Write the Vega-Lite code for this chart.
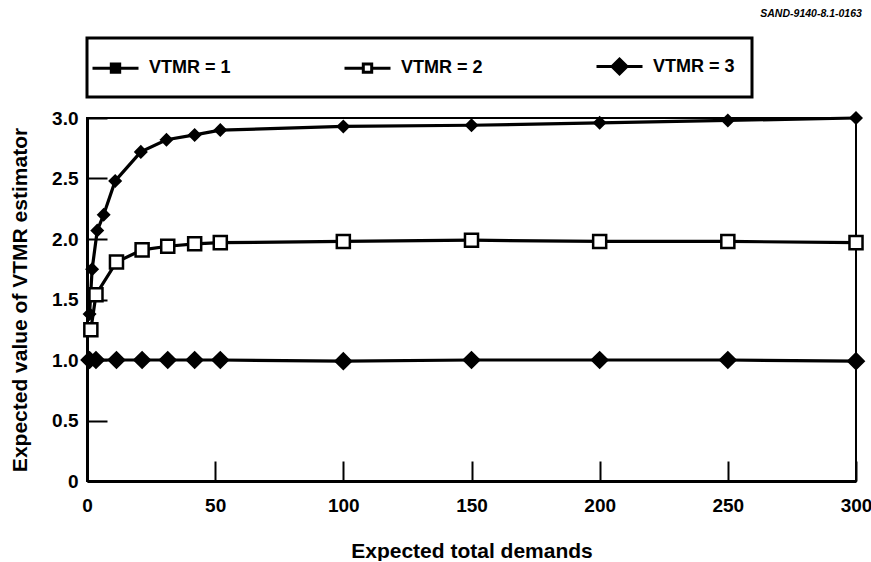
{
  "$schema": "https://vega.github.io/schema/vega-lite/v6.json",
  "width": 769,
  "height": 363,
  "padding": {"left": 9, "top": 9, "right": 0, "bottom": 0},
  "background": "white",
  "title": {"text": "SAND-9140-8.1-0163", "anchor": "end", "fontSize": 10.5, "fontStyle": "italic", "fontWeight": "bold", "font": "Liberation Sans", "color": "black", "offset": 17, "dx": -10},
  "config": {
    "font": "Liberation Sans",
    "view": {"stroke": "black", "strokeWidth": 2},
    "legend": {"strokeWidth": 3},
    "axis": {"domainColor": "black", "domainWidth": 3, "tickColor": "black", "tickWidth": 2, "grid": false, "labelFlush": false, "labelFont": "Liberation Sans", "labelFontWeight": "bold", "labelFontSize": 19, "labelColor": "black", "titleFont": "Liberation Sans", "titleFontWeight": "bold", "titleFontSize": 21, "titleColor": "black"}
  },
  "data": {"values": [
    {"series": "VTMR = 1", "x": 1, "y": 1.0},
    {"series": "VTMR = 1", "x": 3.5, "y": 1.0},
    {"series": "VTMR = 1", "x": 11.5, "y": 1.0},
    {"series": "VTMR = 1", "x": 21.5, "y": 1.0},
    {"series": "VTMR = 1", "x": 31.5, "y": 1.0},
    {"series": "VTMR = 1", "x": 42, "y": 1.0},
    {"series": "VTMR = 1", "x": 52, "y": 1.0},
    {"series": "VTMR = 1", "x": 100, "y": 0.99},
    {"series": "VTMR = 1", "x": 150, "y": 1.0},
    {"series": "VTMR = 1", "x": 200, "y": 1.0},
    {"series": "VTMR = 1", "x": 250, "y": 1.0},
    {"series": "VTMR = 1", "x": 300, "y": 0.99},
    {"series": "VTMR = 2", "x": 1.5, "y": 1.25},
    {"series": "VTMR = 2", "x": 3.5, "y": 1.54},
    {"series": "VTMR = 2", "x": 11.5, "y": 1.81},
    {"series": "VTMR = 2", "x": 21.5, "y": 1.91},
    {"series": "VTMR = 2", "x": 31.5, "y": 1.94},
    {"series": "VTMR = 2", "x": 42, "y": 1.96},
    {"series": "VTMR = 2", "x": 52, "y": 1.97},
    {"series": "VTMR = 2", "x": 100, "y": 1.98},
    {"series": "VTMR = 2", "x": 150, "y": 1.99},
    {"series": "VTMR = 2", "x": 200, "y": 1.98},
    {"series": "VTMR = 2", "x": 250, "y": 1.98},
    {"series": "VTMR = 2", "x": 300, "y": 1.97},
    {"series": "VTMR = 3", "x": 1, "y": 1.38},
    {"series": "VTMR = 3", "x": 2, "y": 1.75},
    {"series": "VTMR = 3", "x": 4, "y": 2.07},
    {"series": "VTMR = 3", "x": 6.5, "y": 2.2},
    {"series": "VTMR = 3", "x": 11, "y": 2.48},
    {"series": "VTMR = 3", "x": 21, "y": 2.72},
    {"series": "VTMR = 3", "x": 31, "y": 2.82},
    {"series": "VTMR = 3", "x": 42, "y": 2.86},
    {"series": "VTMR = 3", "x": 52, "y": 2.9},
    {"series": "VTMR = 3", "x": 100, "y": 2.93},
    {"series": "VTMR = 3", "x": 150, "y": 2.94},
    {"series": "VTMR = 3", "x": 200, "y": 2.96},
    {"series": "VTMR = 3", "x": 250, "y": 2.98},
    {"series": "VTMR = 3", "x": 300, "y": 3.0}
  ]},
  "encoding": {
    "x": {"field": "x", "type": "quantitative", "scale": {"domain": [0, 300], "nice": false},
      "axis": {"title": "Expected total demands", "values": [0, 50, 100, 150, 200, 250, 300], "tickSize": -20, "labelPadding": 35, "titlePadding": 25}},
    "y": {"field": "y", "type": "quantitative", "scale": {"domain": [0, 3], "nice": false},
      "axis": {"title": "Expected value of VTMR estimator", "values": [0, 0.5, 1, 1.5, 2, 2.5, 3], "labelExpr": "datum.value == 0 ? '0' : format(datum.value, '.1f')", "tickSize": -20, "labelPadding": 29, "titlePadding": 21}}
  },
  "layer": [
    {
      "mark": {"type": "line", "color": "black", "strokeWidth": 3.2},
      "encoding": {"detail": {"field": "series"}}
    },
    {
      "mark": {"type": "point", "stroke": "black", "strokeWidth": 2.5, "opacity": 1, "filled": false},
      "encoding": {
        "shape": {"field": "series", "type": "nominal", "scale": {"domain": ["VTMR = 1", "VTMR = 2", "VTMR = 3"], "range": ["diamond", "square", "diamond"]}, "legend": null},
        "fill": {"field": "series", "type": "nominal", "scale": {"domain": ["VTMR = 1", "VTMR = 2", "VTMR = 3"], "range": ["black", "white", "black"]}, "legend": null},
        "size": {"field": "series", "type": "nominal", "scale": {"domain": ["VTMR = 1", "VTMR = 2", "VTMR = 3"], "range": [230, 110, 230]}, "legend": null}
      }
    },
    {
      "transform": [{"filter": "datum.x < 0"}],
      "mark": {"type": "point", "strokeWidth": 3, "opacity": 1, "filled": false},
      "encoding": {
        "shape": {"field": "series", "type": "nominal", "scale": {"domain": ["VTMR = 1", "VTMR = 2", "VTMR = 3"], "range": ["M-2.3,0H2.3M-0.42,-0.42H0.42V0.42H-0.42Z", "M-2.3,0H-0.42M0.42,0H2.3M-0.42,-0.42H0.42V0.42H-0.42Z", "M-2.3,0H2.3M0,-0.75L0.75,0L0,0.75L-0.75,0Z"]},
          "legend": {"title": null, "orient": "top", "direction": "horizontal", "offset": 14, "padding": 17, "strokeColor": "black", "symbolSize": 400, "symbolStrokeWidth": 3, "labelOffset": 22, "labelFontSize": 18, "labelFontWeight": "bold", "labelFont": "Liberation Sans", "labelColor": "black", "labelLimit": 400, "columnPadding": 107}},
        "fill": {"field": "series", "type": "nominal", "scale": {"domain": ["VTMR = 1", "VTMR = 2", "VTMR = 3"], "range": ["black", "white", "black"]},
          "legend": {"title": null, "orient": "top", "direction": "horizontal", "offset": 14, "padding": 17, "strokeColor": "black", "symbolSize": 400, "symbolStrokeWidth": 3, "labelOffset": 22, "labelFontSize": 18, "labelFontWeight": "bold", "labelFont": "Liberation Sans", "labelColor": "black", "labelLimit": 400, "columnPadding": 107}},
        "stroke": {"field": "series", "type": "nominal", "scale": {"domain": ["VTMR = 1", "VTMR = 2", "VTMR = 3"], "range": ["black", "black", "black"]},
          "legend": {"title": null, "orient": "top", "direction": "horizontal", "offset": 14, "padding": 17, "strokeColor": "black", "symbolSize": 400, "symbolStrokeWidth": 3, "labelOffset": 22, "labelFontSize": 18, "labelFontWeight": "bold", "labelFont": "Liberation Sans", "labelColor": "black", "labelLimit": 400, "columnPadding": 107}}
      }
    }
  ],
  "resolve": {"scale": {"shape": "independent", "fill": "independent", "stroke": "independent"}}
}
